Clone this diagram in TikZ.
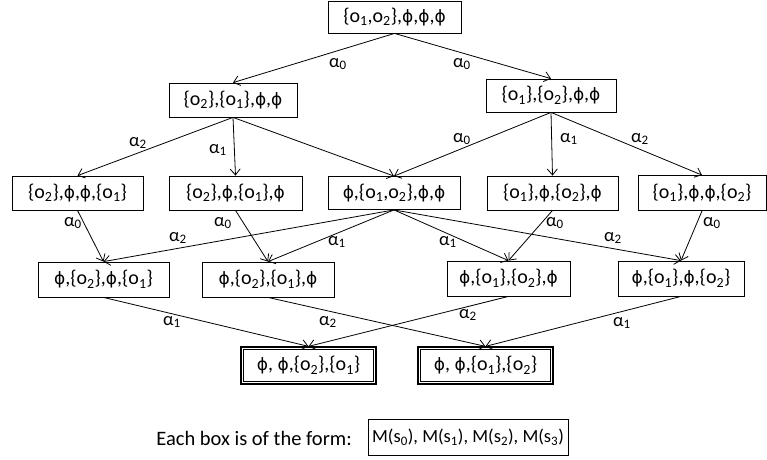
\documentclass[tikz,border=0pt]{standalone}
\usepackage{fontspec}
\setmainfont{Carlito}
\newfontfamily\phfont{DejaVu Sans}
\usetikzlibrary{arrows.meta}
\newcommand{\lo}[1]{\textsubscript{#1}}
\newcommand{\ph}{{\phfont\scalebox{0.85}{ϕ}}}
\newcommand{\al}[1]{α\lo{#1}}
\begin{document}
\begin{tikzpicture}[x=1pt,y=-1pt,
  box/.style={draw, line width=0.8pt, minimum height=33pt, inner sep=0pt, font=\fontsize{20}{22}\selectfont},
  fin/.style={draw, line width=1.3pt, minimum height=37pt, minimum width=135pt, inner sep=0pt, font=\fontsize{20}{22}\selectfont},
  arr/.style={line width=0.8pt, -{Straight Barb[length=6pt,width=10pt]}},
  lab/.style={inner sep=0pt, font=\fontsize{18.5}{21}\selectfont}]
\useasboundingbox (0,0) rectangle (767,459);
% row 1
\node[box, minimum width=133pt, minimum height=32pt] (t) at (394.5,17) {\{o\lo1,o\lo2\},\ph,\ph,\ph};
% row 2
\node[box, minimum width=128pt, minimum height=34pt] (a2) at (233,100) {\{o\lo2\},\{o\lo1\},\ph,\ph};
\node[box, minimum width=130pt] (b2) at (551,95.5) {\{o\lo1\},\{o\lo2\},\ph,\ph};
% row 3
\node[box, minimum width=131pt, minimum height=34pt] (a3) at (77.5,193) {\{o\lo2\},\ph,\ph,\{o\lo1\}};
\node[box, minimum width=133pt, minimum height=34pt] (b3) at (235.5,193) {\{o\lo2\},\ph,\{o\lo1\},\ph};
\node[box, minimum width=132pt] (c3) at (394,193) {\ph,\{o\lo1,o\lo2\},\ph,\ph};
\node[box, minimum width=131pt, minimum height=34pt] (d3) at (552.5,193) {\{o\lo1\},\ph,\{o\lo2\},\ph};
\node[box, minimum width=128pt, minimum height=35pt] (e3) at (702,193) {\{o\lo1\},\ph,\ph,\{o\lo2\}};
% row 4
\node[box, minimum width=131pt, minimum height=35pt] (a4) at (103.5,279.5) {\ph,\{o\lo2\},\ph,\{o\lo1\}};
\node[box, minimum width=132pt, minimum height=35pt] (b4) at (268,279.5) {\ph,\{o\lo2\},\{o\lo1\},\ph};
\node[box, minimum width=123pt, minimum height=35pt] (c4) at (508.5,278.5) {\ph,\{o\lo1\},\{o\lo2\},\ph};
\node[box, minimum width=126pt, minimum height=35pt] (d4) at (681,278.5) {\ph,\{o\lo1\},\ph,\{o\lo2\}};
% row 5
\node[fin] (a5) at (308.5,365.5) {\ph, \ph,\{o\lo2\},\{o\lo1\}};
\node[fin] (b5) at (485.5,365.5) {\ph, \ph,\{o\lo1\},\{o\lo2\}};
\draw[line width=0.6pt] ([shift={(3pt,3pt)}]a5.south west) rectangle ([shift={(-3pt,-3pt)}]a5.north east);
\draw[line width=0.6pt] ([shift={(3pt,3pt)}]b5.south west) rectangle ([shift={(-3pt,-3pt)}]b5.north east);
% legend
\node[inner sep=0pt, anchor=east, font=\fontsize{20.5}{23}\selectfont] (lt) at (352,438) {Each box is of the form:};
\node[box, minimum width=200pt, minimum height=36pt, font=\fontsize{18.5}{21}\selectfont] (lb) at (468,437) {M(s\lo0), M(s\lo1), M(s\lo2), M(s\lo3)};
% edges
\draw[arr] (t.south) -- (a2.north);
\draw[arr] (t.south) -- (b2.north);
\draw[arr] (a2.south) -- (a3.north);
\draw[arr] (a2.south) -- (b3.north);
\draw[arr] (a2.south) -- (c3.north);
\draw[arr] (b2.south) -- (c3.north);
\draw[arr] (b2.south) -- (d3.north);
\draw[arr] (b2.south) -- (e3.north);
\draw[arr] (a3.south) -- (a4.north);
\draw[arr] (b3.south) -- (b4.north);
\draw[arr] (c3.south) -- (a4.north);
\draw[arr] (c3.south) -- (b4.north);
\draw[arr] (c3.south) -- (c4.north);
\draw[arr] (c3.south) -- (d4.north);
\draw[arr] (d3.south) -- (c4.north);
\draw[arr] (e3.south) -- (d4.north);
\draw[arr] (a4.south) -- (a5.north);
\draw[arr] (b4.south) -- (b5.north);
\draw[arr] (c4.south) -- (a5.north);
\draw[arr] (d4.south) -- (b5.north);
% labels
\node[lab] (l1) at (338,64) {\al0};
\node[lab] (l2) at (462,64) {\al0};
\node[lab] (l3) at (138,143) {\al2};
\node[lab] (l4) at (218,150) {\al1};
\node[lab] (l5) at (462,139) {\al0};
\node[lab] (l6) at (569,139) {\al1};
\node[lab] (l7) at (640,139) {\al2};
\node[lab] (l8) at (73,223) {\al0};
\node[lab] (l9) at (223,223) {\al0};
\node[lab] (l10) at (178,238) {\al2};
\node[lab] (l11) at (337,242) {\al1};
\node[lab] (l12) at (448,242) {\al1};
\node[lab] (l13) at (555,223) {\al0};
\node[lab] (l14) at (613,238) {\al2};
\node[lab] (l15) at (712,223) {\al0};
\node[lab] (l16) at (172,322) {\al1};
\node[lab] (l17) at (328,322) {\al2};
\node[lab] (l18) at (468,315) {\al2};
\node[lab] (l19) at (622,323) {\al1};
\end{tikzpicture}
\end{document}
